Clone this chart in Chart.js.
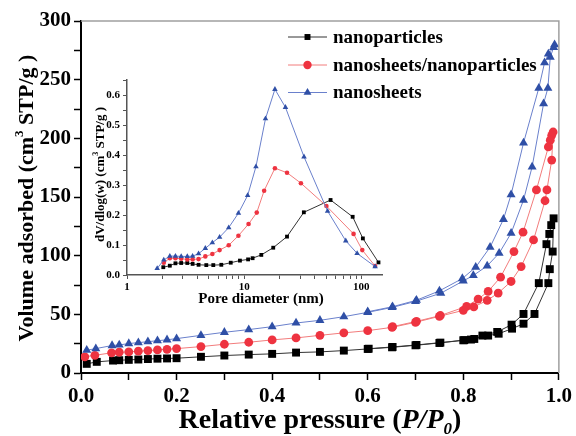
<!DOCTYPE html>
<html>
<head>
<meta charset="utf-8">
<script src="https://cdn.jsdelivr.net/npm/chart.js@4.4.0/dist/chart.umd.min.js"></script>
<style>
  body { margin: 0; background: #fff; }
  #wrap { position: relative; width: 576px; height: 436px; }
  #main { position: absolute; left: 0; top: 0; }
  #inset { position: absolute; left: 90px; top: 70px; }
</style>
</head>
<body>
<div id="wrap">
  <canvas id="main" width="576" height="436"></canvas>
  <canvas id="inset" width="310" height="240"></canvas>
</div>
<script>
// --- series names ---
const seriesNames = ['nanoparticles', 'nanosheets/nanoparticles', 'nanosheets'];

// --- N2 isotherms (main plot): adsorption branch, then desorption branch ---
const npAdsP = [0.012, 0.033, 0.067, 0.080, 0.100, 0.120, 0.140, 0.160, 0.180, 0.200, 0.251, 0.300, 0.351, 0.400, 0.450, 0.500, 0.550, 0.600, 0.651, 0.700, 0.750, 0.800, 0.816, 0.852, 0.874, 0.902, 0.926, 0.949, 0.978, 0.981, 0.987, 0.989];
const npAdsV = [7.8, 9.5, 10.6, 10.9, 11.2, 11.5, 11.9, 12.2, 12.4, 12.6, 13.8, 14.9, 15.7, 16.3, 17.4, 18.0, 19.1, 20.5, 21.9, 23.6, 25.6, 27.9, 28.5, 31.9, 33.5, 37.8, 42.0, 50.3, 76.6, 88.5, 103.5, 131.8];
const npDesP = [0.984, 0.980, 0.974, 0.958, 0.926, 0.901, 0.871, 0.840, 0.823, 0.802, 0.752, 0.702, 0.652, 0.602];
const npDesV = [126.0, 118.5, 109.8, 76.6, 50.3, 41.2, 35.0, 31.9, 29.0, 28.0, 25.9, 23.9, 22.2, 20.7];

const nsnpAdsP = [0.008, 0.029, 0.064, 0.080, 0.100, 0.120, 0.140, 0.160, 0.180, 0.200, 0.251, 0.300, 0.351, 0.400, 0.450, 0.500, 0.550, 0.600, 0.651, 0.700, 0.750, 0.800, 0.822, 0.850, 0.873, 0.900, 0.921, 0.947, 0.971, 0.975, 0.985, 0.988];
const nsnpAdsV = [13.8, 15.1, 17.2, 17.7, 18.0, 18.6, 19.1, 19.7, 20.2, 20.8, 22.5, 24.5, 26.2, 28.2, 29.9, 32.1, 34.2, 36.1, 38.9, 43.2, 48.3, 53.4, 56.3, 61.9, 68.1, 78.0, 90.7, 113.4, 146.8, 156.0, 181.5, 205.4];
const nsnpDesP = [0.985, 0.982, 0.978, 0.953, 0.925, 0.906, 0.878, 0.852, 0.831, 0.807, 0.752, 0.702, 0.652];
const nsnpDesV = [202.6, 198.4, 192.7, 156.0, 120.0, 103.5, 81.7, 69.5, 63.0, 56.8, 49.0, 44.0, 39.5];

const nsAdsP = [0.012, 0.031, 0.065, 0.080, 0.100, 0.120, 0.140, 0.160, 0.180, 0.200, 0.251, 0.300, 0.351, 0.400, 0.450, 0.500, 0.550, 0.600, 0.651, 0.700, 0.753, 0.800, 0.821, 0.850, 0.875, 0.900, 0.926, 0.944, 0.968, 0.977, 0.982, 0.991];
const nsAdsV = [19.4, 20.8, 23.4, 23.9, 25.1, 25.9, 26.7, 27.5, 28.3, 29.3, 32.1, 34.7, 37.0, 39.5, 42.6, 44.9, 48.0, 51.7, 55.9, 61.0, 68.0, 78.5, 83.1, 91.3, 102.1, 119.1, 147.4, 175.7, 229.6, 242.8, 269.2, 279.9];
const nsDesP = [0.989, 0.978, 0.970, 0.958, 0.926, 0.900, 0.884, 0.856, 0.826, 0.798, 0.750, 0.702, 0.652, 0.600];
const nsDesV = [277.6, 272.0, 264.4, 242.8, 196.1, 152.0, 131.0, 107.2, 90.2, 80.5, 70.0, 62.0, 56.5, 52.2];

// --- pore size distribution (inset) ---
const npPoreD = [2.04, 2.32, 2.59, 2.90, 3.27, 3.63, 4.08, 4.75, 5.45, 6.38, 7.68, 9.20, 10.8, 11.8, 14.0, 17.7, 23.2, 32.3, 54.6, 84.3, 103, 140];
const npPoreV = [0.026, 0.031, 0.039, 0.040, 0.040, 0.037, 0.034, 0.033, 0.033, 0.034, 0.041, 0.048, 0.052, 0.056, 0.067, 0.091, 0.128, 0.209, 0.250, 0.194, 0.122, 0.042];
const nsnpPoreD = [2.06, 2.32, 2.59, 2.90, 3.27, 3.63, 4.08, 4.66, 5.35, 6.17, 7.38, 8.93, 10.9, 12.8, 14.8, 18.3, 23.2, 30.5, 50.3, 85.8, 101.8, 131];
const nsnpPoreV = [0.041, 0.056, 0.056, 0.054, 0.052, 0.052, 0.053, 0.062, 0.070, 0.083, 0.099, 0.131, 0.170, 0.208, 0.281, 0.356, 0.341, 0.306, 0.230, 0.137, 0.083, 0.030];
const nsPoreD = [1.81, 2.06, 2.32, 2.59, 2.90, 3.27, 3.63, 4.08, 4.66, 5.35, 6.17, 7.38, 8.93, 10.7, 12.6, 15.2, 18.3, 22.5, 32.4, 51.5, 73.6, 92, 131];
const nsPoreV = [0.022, 0.050, 0.063, 0.063, 0.062, 0.062, 0.063, 0.071, 0.089, 0.108, 0.126, 0.158, 0.206, 0.265, 0.361, 0.521, 0.619, 0.559, 0.394, 0.213, 0.114, 0.072, 0.028];

// --- tick labels ---
const insetXLabels = [1, 10, 100];

// --- styles ---
const FONT = "'Liberation Serif', 'Times New Roman', serif";
const lineColors = ['#333333', '#f27c7c', '#6a80cc'];
const markColors = ['#000000', '#ee3340', '#2f4fa6'];
const markStyles = ['rect', 'circle', 'triangle'];
const mainRadius = [5.6, 4.4, 5.2];
const insetRadius = [2.7, 2.3, 3.2];

function pts(xs, ys) {
  return xs.map((x, i) => ({ x: x, y: ys[i] }));
}

function drawRuns(ctx, runs, cx, baseY) {
  // draw a line of text made of several font runs, centred on cx
  let total = 0;
  runs.forEach(r => { ctx.font = r.font; total += ctx.measureText(r.t).width; });
  let x = cx - total / 2;
  ctx.textAlign = 'left';
  ctx.textBaseline = 'alphabetic';
  runs.forEach(r => {
    ctx.font = r.font;
    ctx.fillText(r.t, x, baseY + (r.dy || 0));
    x += ctx.measureText(r.t).width;
  });
}

function mkDataset(i, data, radius) {
  return {
    label: seriesNames[i],
    data: data,
    showLine: true,
    borderColor: lineColors[i],
    borderWidth: 1,
    pointStyle: markStyles[i],
    pointRadius: radius[i],
    pointBackgroundColor: markColors[i],
    pointBorderColor: markColors[i],
    pointBorderWidth: 0,
    order: 3 - i
  };
}

function fixedScale(size, isX) {
  return scale => { if (isX) scale.height = size; else scale.width = size; };
}

// ================================
// MAIN: isotherms
// ================================
const mainDeco = {
  id: 'mainDeco',
  afterDraw(chart) {
    const { ctx, chartArea: a } = chart;
    ctx.save();
    // frame top / right
    ctx.strokeStyle = '#a0a0a0';
    ctx.lineWidth = 1.5;
    ctx.beginPath();
    ctx.moveTo(a.left, a.top);
    ctx.lineTo(a.right, a.top);
    ctx.lineTo(a.right, a.bottom);
    ctx.stroke();

    ctx.fillStyle = '#000';
    // x title
    drawRuns(ctx, [
      { t: 'Relative pressure (', font: 'bold 28px ' + FONT },
      { t: 'P/P', font: 'italic bold 28px ' + FONT },
      { t: '0', font: 'italic bold 17px ' + FONT, dy: 6 },
      { t: ')', font: 'bold 28px ' + FONT }
    ], (a.left + a.right) / 2, 428);

    // y title
    ctx.save();
    ctx.translate(33, 198);
    ctx.rotate(-Math.PI / 2);
    drawRuns(ctx, [
      { t: 'Volume adsorbed (cm', font: 'bold 22px ' + FONT },
      { t: '3', font: 'bold 13px ' + FONT, dy: -10 },
      { t: ' STP/g )', font: 'bold 22px ' + FONT }
    ], 0, 0);
    ctx.restore();

    // legend
    const rows = [37, 65, 92.5];
    chart.data.datasets.forEach((ds, i) => {
      const y = rows[i];
      ctx.strokeStyle = lineColors[i];
      ctx.lineWidth = 1;
      ctx.beginPath();
      ctx.moveTo(288, y);
      ctx.lineTo(327, y);
      ctx.stroke();
      ctx.fillStyle = markColors[i];
      ctx.strokeStyle = markColors[i];
      Chart.helpers.drawPoint(ctx, { pointStyle: markStyles[i], radius: [4.2, 4.2, 4.6][i], rotation: 0, borderWidth: 0 }, 307.5, y);
      ctx.fillStyle = '#000';
      ctx.font = 'bold 19px ' + FONT;
      ctx.textAlign = 'left';
      ctx.textBaseline = 'middle';
      ctx.fillText(ds.label, 333, y + 1);
    });
    ctx.restore();
  }
};

new Chart(document.getElementById('main'), {
  type: 'scatter',
  data: {
    datasets: [
      mkDataset(0, pts(npAdsP, npAdsV).concat(pts(npDesP, npDesV)), mainRadius),
      mkDataset(1, pts(nsnpAdsP, nsnpAdsV).concat(pts(nsnpDesP, nsnpDesV)), mainRadius),
      mkDataset(2, pts(nsAdsP, nsAdsV).concat(pts(nsDesP, nsDesV)), mainRadius)
    ]
  },
  options: {
    responsive: false,
    animation: false,
    layout: { padding: { left: 0, right: 14, top: 21, bottom: 0 } },
    plugins: { legend: { display: false }, tooltip: { enabled: false } },
    scales: {
      x: {
        type: 'linear', min: 0, max: 1,
        afterFit: fixedScale(63, true),
        grid: { drawOnChartArea: false, tickLength: 7, tickColor: '#000', tickWidth: 1.5 },
        border: { color: '#000', width: 2 },
        ticks: {
          stepSize: 0.1, autoSkip: false, maxRotation: 0, padding: 4,
          color: '#000', font: { family: FONT, size: 21, weight: 'bold' },
          callback: v => (Math.round(v * 10) % 2 === 0 ? v.toFixed(1) : '')
        }
      },
      y: {
        type: 'linear', min: 0, max: 300,
        afterFit: fixedScale(81, false),
        grid: { drawOnChartArea: false, tickLength: 7, tickColor: '#000', tickWidth: 1.5 },
        border: { color: '#000', width: 2 },
        ticks: {
          stepSize: 25, autoSkip: false, padding: 3,
          color: '#000', font: { family: FONT, size: 21, weight: 'bold' },
          callback: v => (v % 50 === 0 ? String(v) : '')
        }
      }
    }
  },
  plugins: [mainDeco]
});

// ================================
// INSET: pore size distribution
// ================================
const insetDeco = {
  id: 'insetDeco',
  afterDraw(chart) {
    const { ctx, chartArea: a } = chart;
    ctx.save();
    ctx.fillStyle = '#000';
    drawRuns(ctx, [{ t: 'Pore diameter (nm)', font: 'bold 15px ' + FONT }], 171, 233);
    ctx.translate(14, (a.top + a.bottom) / 2 - 3);
    ctx.rotate(-Math.PI / 2);
    drawRuns(ctx, [
      { t: 'dV/dlog(w) (cm', font: 'bold 13px ' + FONT },
      { t: '3', font: 'bold 8px ' + FONT, dy: -6 },
      { t: ' STP/g )', font: 'bold 13px ' + FONT }
    ], 0, 0);
    ctx.restore();
  }
};

new Chart(document.getElementById('inset'), {
  type: 'scatter',
  data: {
    datasets: [
      mkDataset(0, pts(npPoreD, npPoreV), insetRadius),
      mkDataset(1, pts(nsnpPoreD, nsnpPoreV), insetRadius),
      mkDataset(2, pts(nsPoreD, nsPoreV), insetRadius)
    ]
  },
  options: {
    responsive: false,
    animation: false,
    layout: { padding: { left: 0, right: 18, top: 10, bottom: 0 } },
    plugins: { legend: { display: false }, tooltip: { enabled: false } },
    scales: {
      x: {
        type: 'logarithmic', min: 1, max: 150,
        afterFit: fixedScale(35, true),
        afterBuildTicks: scale => {
          const t = [];
          [1, 10].forEach(dec => { for (let k = 1; k < 10; k++) t.push({ value: k * dec }); });
          t.push({ value: 100 });
          scale.ticks = t;
        },
        grid: { drawOnChartArea: false, tickLength: 4, tickColor: '#555', tickWidth: 1 },
        border: { color: '#555', width: 1.5 },
        ticks: {
          autoSkip: false, maxRotation: 0, padding: 2,
          color: '#000', font: { family: FONT, size: 11, weight: 'bold' },
          callback: v => (insetXLabels.includes(v) ? String(v) : '')
        }
      },
      y: {
        type: 'linear', min: 0, max: 0.65,
        afterFit: fixedScale(37, false),
        grid: { drawOnChartArea: false, tickLength: 4, tickColor: '#555', tickWidth: 1 },
        border: { color: '#555', width: 1.5 },
        ticks: {
          stepSize: 0.05, autoSkip: false, padding: 3,
          color: '#000', font: { family: FONT, size: 11, weight: 'bold' },
          callback: v => {
            const k = Math.round(v * 100);
            return k % 10 === 0 ? (k / 100).toFixed(1) : '';
          }
        }
      }
    }
  },
  plugins: [insetDeco]
});
</script>
</body>
</html>
